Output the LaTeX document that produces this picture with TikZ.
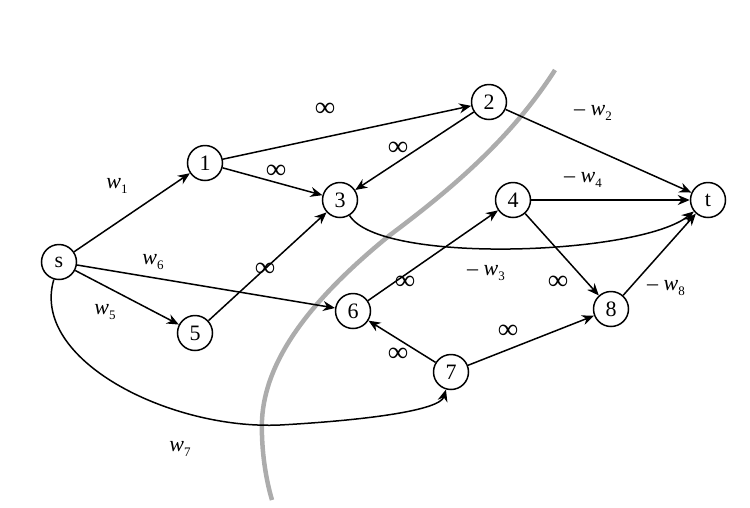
\documentclass[tikz,border=0pt]{standalone}
\usepackage{fontspec}
\setmainfont{Liberation Serif}
\usetikzlibrary{arrows.meta}
\newcommand{\wl}[1]{\textit{w}\raisebox{-0.45ex}{\fontsize{13}{13}\selectfont #1}}
\begin{document}
\begin{tikzpicture}[x=1pt,y=-1pt,
  vert/.style={circle,draw,line width=1.5pt,minimum size=35pt,inner sep=0pt,font=\fontsize{22}{24}\selectfont},
  edge/.style={line width=1.5pt,-{Stealth[length=12pt,width=10pt]}},
  lab/.style={font=\fontsize{22}{24}\selectfont},
  inf/.style={font=\fontsize{28}{28}\selectfont\bfseries}]
\useasboundingbox (0,0) rectangle (750,507);
\draw[gray!65,line width=4.5pt] (555,70) .. controls (510,140) and (450,190) .. (390,235) .. controls (310,300) and (265,360) .. (262,420) .. controls (261,450) and (266,480) .. (272,500);
\node[vert] (s) at (59,262) {s};
\node[vert] (1) at (205,163) {1};
\node[vert] (2) at (489,102) {2};
\node[vert] (3) at (340,200) {3};
\node[vert] (4) at (513,200) {4};
\node[vert] (t) at (708,200) {t};
\node[vert] (5) at (195,333) {5};
\node[vert] (6) at (353,311) {6};
\node[vert] (7) at (451,372) {7};
\node[vert] (8) at (611,309) {8};
\draw[edge] (s) -- (1);
\draw[edge] (1) -- (2);
\draw[edge] (1) -- (3);
\draw[edge] (2) -- (3);
\draw[edge] (2) -- (t);
\draw[edge] (4) -- (t);
\draw[edge] (3) .. controls (380,265) and (640,255) .. (t);
\draw[edge] (s) -- (6);
\draw[edge] (s) -- (5);
\draw[edge] (5) -- (3);
\draw[edge] (6) -- (4);
\draw[edge] (4) -- (8);
\draw[edge] (7) -- (6);
\draw[edge] (7) -- (8);
\draw[edge] (8) -- (t);
\draw[edge] (s) .. controls (30,360) and (170,430) .. (280,425) .. controls (370,420) and (440,410) .. (7);
\node[lab] (lw1) at (117,186) {\wl{1}};
\node[lab] (lw2) at (593,113) {– \wl{2}};
\node[lab] (lw4) at (583,180) {– \wl{4}};
\node[lab] (lw3) at (486,273) {– \wl{3}};
\node[lab] (lw6) at (153,262) {\wl{6}};
\node[lab] (lw5) at (105,312) {\wl{5}};
\node[lab] (lw8) at (666,288) {– \wl{8}};
\node[lab] (lw7) at (180,449) {\wl{7}};
\node[inf] (i1) at (325,110) {∞};
\node[inf] (i2) at (276,172) {∞};
\node[inf] (i3) at (398,149) {∞};
\node[inf] (i4) at (265,270) {∞};
\node[inf] (i5) at (405,283) {∞};
\node[inf] (i6) at (558,283) {∞};
\node[inf] (i7) at (398,355) {∞};
\node[inf] (i8) at (508,332) {∞};
\end{tikzpicture}
\end{document}
